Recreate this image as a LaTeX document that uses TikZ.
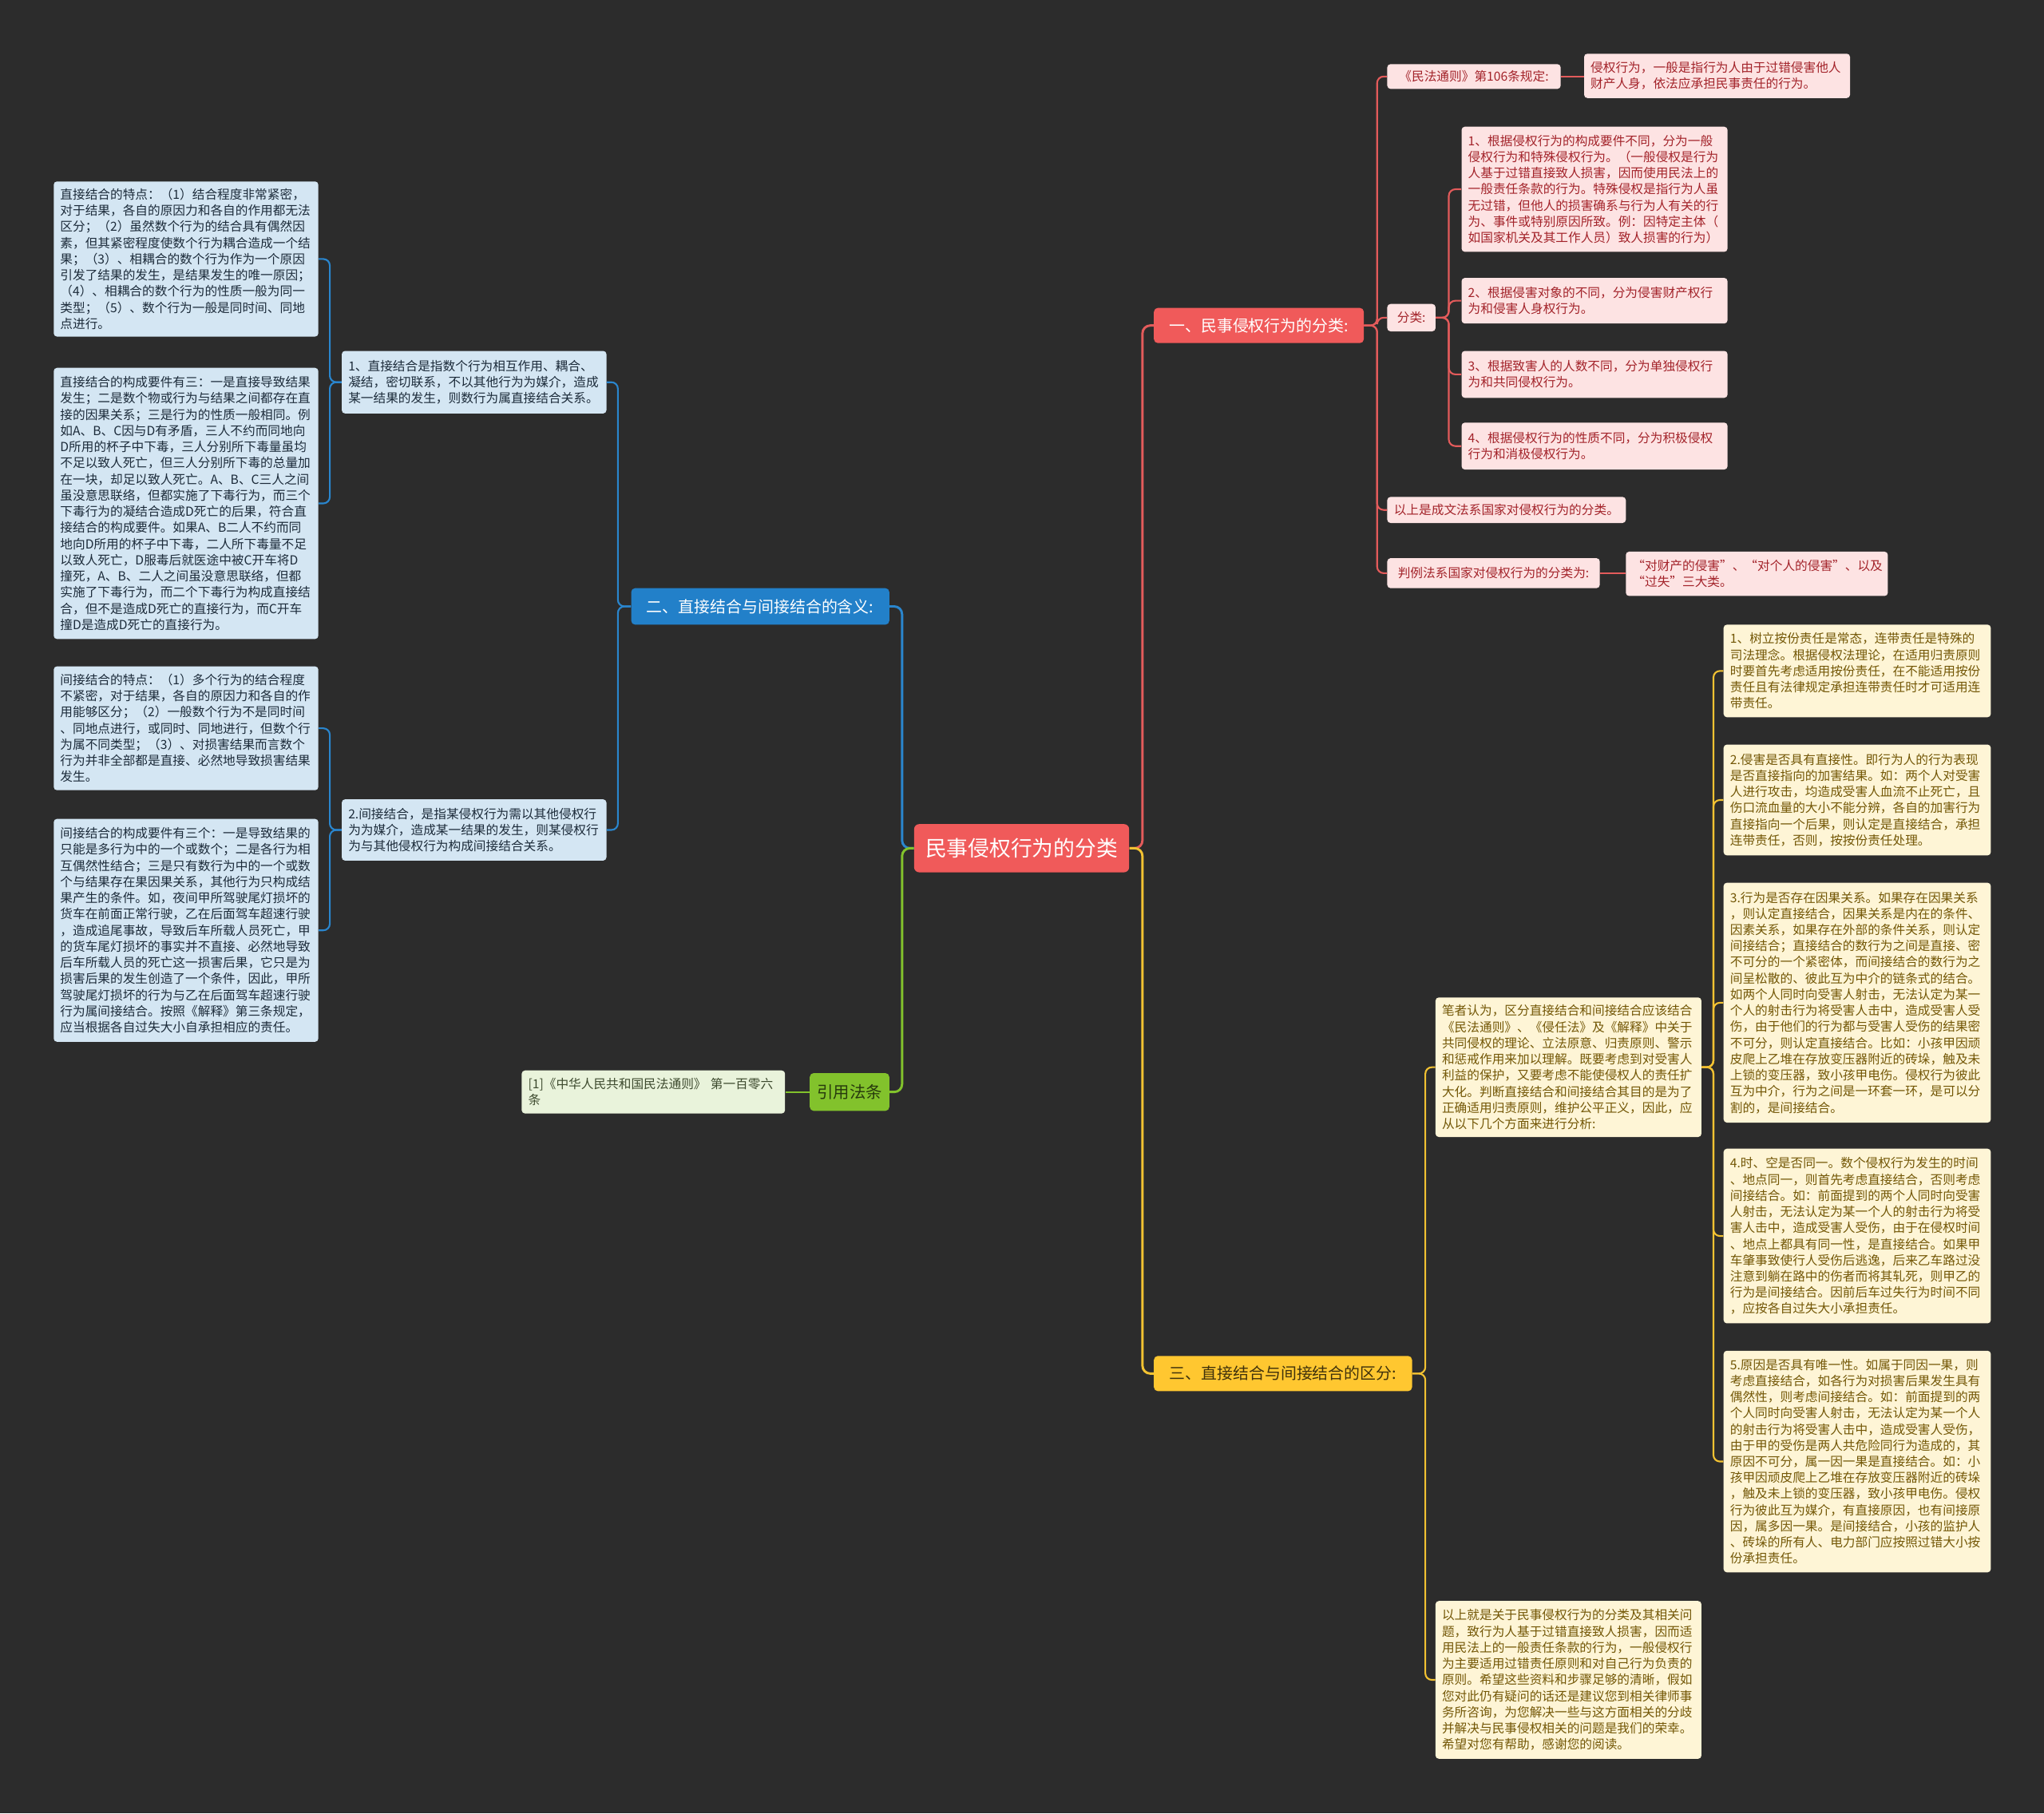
\documentclass[tikz,border=0pt]{standalone}
\usepackage{fontspec}
\newfontfamily\cjk{Noto Sans CJK SC}
\definecolor{bg}{HTML}{2C2C2C}
\definecolor{redmain}{HTML}{F05A5A}
\definecolor{redline}{HTML}{E35B5B}
\definecolor{pinkfill}{HTML}{FDE3E3}
\definecolor{pinktext}{HTML}{A3232A}
\definecolor{bluemain}{HTML}{2280C9}
\definecolor{blueline}{HTML}{2A86CE}
\definecolor{bluefill}{HTML}{D4E6F3}
\definecolor{bluetext}{HTML}{1C2B3A}
\definecolor{yelmain}{HTML}{FFC730}
\definecolor{yelline}{HTML}{F2C232}
\definecolor{yelfill}{HTML}{FEF5D6}
\definecolor{yeltext}{HTML}{735706}
\definecolor{grnmain}{HTML}{82C22C}
\definecolor{grnline}{HTML}{82C22C}
\definecolor{grnfill}{HTML}{E9F3DB}
\definecolor{grntext}{HTML}{3D4A2E}
\tikzset{
  nd/.style={anchor=north west, rounded corners=2.5pt, inner xsep=5pt, inner ysep=0pt,
    align=left, font=\cjk\fontsize{9.6}{12.4}\selectfont},
  sl/.style={anchor=north west, rounded corners=2.5pt, inner sep=0pt,
    align=center, font=\cjk\fontsize{9.6}{12.4}\selectfont},
  pinkbox/.style={fill=pinkfill, text=pinktext},
  bluebox/.style={fill=bluefill, text=bluetext},
  yelbox/.style={fill=yelfill, text=yeltext},
  grnbox/.style={fill=grnfill, text=grntext},
  br/.style={anchor=north west, rounded corners=3pt, inner sep=0pt, align=center,
    font=\cjk\fontsize{12.2}{14}\selectfont},
  conn/.style={line width=1.3pt, rounded corners=5pt},
  mainconn/.style={line width=1.8pt, rounded corners=6pt},
}
\begin{document}
\begin{tikzpicture}[x=1pt,y=-1pt]
\fill[bg] (0,0) rectangle (1568,1391);
\useasboundingbox (0,0) rectangle (1568,1391);

% central and branches
\node[br, fill=redmain, text=white, minimum width=165pt, minimum height=37pt,
  rounded corners=4pt, font=\cjk\fontsize{16.4}{18}\selectfont] (center) at (701,632) {民事侵权行为的分类};
\node[br, fill=redmain, text=white, minimum width=161pt, minimum height=27pt] (b1) at (885,236) {一、民事侵权行为的分类:};
\node[br, fill=bluemain, text=white, minimum width=198pt, minimum height=28pt] (b2) at (484,451) {二、直接结合与间接结合的含义:};
\node[br, fill=yelmain, text=black!75!yelmain, minimum width=198pt, minimum height=27pt] (b3) at (885,1040) {三、直接结合与间接结合的区分:};
\node[br, fill=grnmain, text=black!70!grnmain, minimum width=61pt, minimum height=29pt, font=\cjk\fontsize{12.5}{14}\selectfont] (b4) at (621,823) {引用法条};

% red branch
\node[sl, pinkbox, minimum width=133pt, minimum height=19pt] (plaw) at (1064,49) {《民法通则》第106条规定:};
\node[nd, pinkbox, text width=194pt, minimum height=34pt] (plawc) at (1215,41) {侵权行为，一般是指行为人由于过错侵害他人\\财产人身，依法应承担民事责任的行为。};
\node[sl, pinkbox, minimum width=37pt, minimum height=21pt] (pcls) at (1064,233) {分类:};
\node[nd, pinkbox, text width=194pt, minimum height=96pt] (p1) at (1121,97) {1、根据侵权行为的构成要件不同，分为一般\\侵权行为和特殊侵权行为。（一般侵权是行为\\人基于过错直接致人损害，因而使用民法上的\\一般责任条款的行为。特殊侵权是指行为人虽\\无过错，但他人的损害确系与行为人有关的行\\为、事件或特别原因所致。例：因特定主体（\\如国家机关及其工作人员）致人损害的行为）};
\node[nd, pinkbox, text width=194pt, minimum height=35pt] (p2) at (1121,213) {2、根据侵害对象的不同，分为侵害财产权行\\为和侵害人身权行为。};
\node[nd, pinkbox, text width=194pt, minimum height=36pt] (p3) at (1121,269) {3、根据致害人的人数不同，分为单独侵权行\\为和共同侵权行为。};
\node[nd, pinkbox, text width=194pt, minimum height=36pt] (p4) at (1121,324) {4、根据侵权行为的性质不同，分为积极侵权\\行为和消极侵权行为。};
\node[sl, pinkbox, minimum width=183pt, minimum height=20pt] (pabove) at (1064,381) {以上是成文法系国家对侵权行为的分类。};
\node[sl, pinkbox, minimum width=163pt, minimum height=23pt] (pcase) at (1064,428) {判例法系国家对侵权行为的分类为:};
\node[nd, pinkbox, text width=191pt, minimum height=34pt] (pcasec) at (1247,423) {“对财产的侵害”、“对个人的侵害”、以及\\“过失”三大类。};

% blue branch
\node[nd, bluebox, text width=193pt, minimum height=48pt] (bl1) at (262,269) {1、直接结合是指数个行为相互作用、耦合、\\凝结，密切联系，不以其他行为为媒介，造成\\某一结果的发生，则数行为属直接结合关系。};
\node[nd, bluebox, text width=193pt, minimum height=47pt] (bl2) at (262,613) {2.间接结合，是指某侵权行为需以其他侵权行\\为为媒介，造成某一结果的发生，则某侵权行\\为与其他侵权行为构成间接结合关系。};
\node[nd, bluebox, text width=193pt, minimum height=119pt] (n1) at (41,139) {直接结合的特点：（1）结合程度非常紧密，\\对于结果，各自的原因力和各自的作用都无法\\区分；（2）虽然数个行为的结合具有偶然因\\素，但其紧密程度使数个行为耦合造成一个结\\果；（3）、相耦合的数个行为作为一个原因\\引发了结果的发生，是结果发生的唯一原因；\\（4）、相耦合的数个行为的性质一般为同一\\类型；（5）、数个行为一般是同时间、同地\\点进行。};
\node[nd, bluebox, text width=193pt, minimum height=208pt] (n2) at (41,282) {直接结合的构成要件有三：一是直接导致结果\\发生；二是数个物或行为与结果之间都存在直\\接的因果关系；三是行为的性质一般相同。例\\如A、B、C因与D有矛盾，三人不约而同地向\\D所用的杯子中下毒，三人分别所下毒量虽均\\不足以致人死亡，但三人分别所下毒的总量加\\在一块，却足以致人死亡。A、B、C三人之间\\虽没意思联络，但都实施了下毒行为，而三个\\下毒行为的凝结合造成D死亡的后果，符合直\\接结合的构成要件。如果A、B二人不约而同\\地向D所用的杯子中下毒，二人所下毒量不足\\以致人死亡，D服毒后就医途中被C开车将D\\撞死，A、B、二人之间虽没意思联络，但都\\实施了下毒行为，而二个下毒行为构成直接结\\合，但不是造成D死亡的直接行为，而C开车\\撞D是造成D死亡的直接行为。};
\node[nd, bluebox, text width=193pt, minimum height=95pt] (n3) at (41,511) {间接结合的特点：（1）多个行为的结合程度\\不紧密，对于结果，各自的原因力和各自的作\\用能够区分；（2）一般数个行为不是同时间\\、同地点进行，或同时、同地进行，但数个行\\为属不同类型；（3）、对损害结果而言数个\\行为并非全部都是直接、必然地导致损害结果\\发生。};
\node[nd, bluebox, text width=193pt, minimum height=171pt] (n4) at (41,628) {间接结合的构成要件有三个：一是导致结果的\\只能是多行为中的一个或数个；二是各行为相\\互偶然性结合；三是只有数行为中的一个或数\\个与结果存在果因果关系，其他行为只构成结\\果产生的条件。如，夜间甲所驾驶尾灯损坏的\\货车在前面正常行驶，乙在后面驾车超速行驶\\，造成追尾事故，导致后车所载人员死亡，甲\\的货车尾灯损坏的事实并不直接、必然地导致\\后车所载人员的死亡这一损害后果，它只是为\\损害后果的发生创造了一个条件，因此，甲所\\驾驶尾灯损坏的行为与乙在后面驾车超速行驶\\行为属间接结合。按照《解释》第三条规定，\\应当根据各自过失大小自承担相应的责任。};

% green branch
\node[nd, grnbox, text width=192pt, minimum height=33pt] (cite) at (400,821) {[1]《中华人民共和国民法通则》~第一百零六\\条};

% yellow branch
\node[nd, yelbox, text width=194pt, minimum height=107pt] (y0) at (1101,765) {笔者认为，区分直接结合和间接结合应该结合\\《民法通则》、《侵任法》及《解释》中关于\\共同侵权的理论、立法原意、归责原则、警示\\和惩戒作用来加以理解。既要考虑到对受害人\\利益的保护，又要考虑不能使侵权人的责任扩\\大化。判断直接结合和间接结合其目的是为了\\正确适用归责原则，维护公平正义，因此，应\\从以下几个方面来进行分析:};
\node[nd, yelbox, text width=194pt, minimum height=121pt] (yb) at (1101,1228) {以上就是关于民事侵权行为的分类及其相关问\\题，致行为人基于过错直接致人损害，因而适\\用民法上的一般责任条款的行为，一般侵权行\\为主要适用过错责任原则和对自己行为负责的\\原则。希望这些资料和步骤足够的清晰，假如\\您对此仍有疑问的话还是建议您到相关律师事\\务所咨询，为您解决一些与这方面相关的分歧\\并解决与民事侵权相关的问题是我们的荣幸。\\希望对您有帮助，感谢您的阅读。};
\node[nd, yelbox, text width=195pt, minimum height=71pt] (ya) at (1322,479) {1、树立按份责任是常态，连带责任是特殊的\\司法理念。根据侵权法理论，在适用归责原则\\时要首先考虑适用按份责任，在不能适用按份\\责任且有法律规定承担连带责任时才可适用连\\带责任。};
\node[nd, yelbox, text width=195pt, minimum height=85pt] (yc) at (1322,571) {2.侵害是否具有直接性。即行为人的行为表现\\是否直接指向的加害结果。如：两个人对受害\\人进行攻击，均造成受害人血流不止死亡，且\\伤口流血量的大小不能分辨，各自的加害行为\\直接指向一个后果，则认定是直接结合，承担\\连带责任，否则，按按份责任处理。};
\node[nd, yelbox, text width=195pt, minimum height=184pt] (yd) at (1322,677) {3.行为是否存在因果关系。如果存在因果关系\\，则认定直接结合，因果关系是内在的条件、\\因素关系，如果存在外部的条件关系，则认定\\间接结合；直接结合的数行为之间是直接、密\\不可分的一个紧密体，而间接结合的数行为之\\间呈松散的、彼此互为中介的链条式的结合。\\如两个人同时向受害人射击，无法认定为某一\\个人的射击行为将受害人击中，造成受害人受\\伤，由于他们的行为都与受害人受伤的结果密\\不可分，则认定直接结合。比如：小孩甲因顽\\皮爬上乙堆在存放变压器附近的砖垛，触及未\\上锁的变压器，致小孩甲电伤。侵权行为彼此\\互为中介，行为之间是一环套一环，是可以分\\割的，是间接结合。};
\node[nd, yelbox, text width=195pt, minimum height=134pt] (ye) at (1322,881) {4.时、空是否同一。数个侵权行为发生的时间\\、地点同一，则首先考虑直接结合，否则考虑\\间接结合。如：前面提到的两个人同时向受害\\人射击，无法认定为某一个人的射击行为将受\\害人击中，造成受害人受伤，由于在侵权时间\\、地点上都具有同一性，是直接结合。如果甲\\车肇事致使行人受伤后逃逸，后来乙车路过没\\注意到躺在路中的伤者而将其轧死，则甲乙的\\行为是间接结合。因前后车过失行为时间不同\\，应按各自过失大小承担责任。};
\node[nd, yelbox, text width=195pt, minimum height=170pt] (yf) at (1322,1036) {5.原因是否具有唯一性。如属于同因一果，则\\考虑直接结合，如各行为对损害后果发生具有\\偶然性，则考虑间接结合。如：前面提到的两\\个人同时向受害人射击，无法认定为某一个人\\的射击行为将受害人击中，造成受害人受伤，\\由于甲的受伤是两人共危险同行为造成的，其\\原因不可分，属一因一果是直接结合。如：小\\孩甲因顽皮爬上乙堆在存放变压器附近的砖垛\\，触及未上锁的变压器，致小孩甲电伤。侵权\\行为彼此互为媒介，有直接原因，也有间接原\\因，属多因一果。是间接结合，小孩的监护人\\、砖垛的所有人、电力部门应按照过错大小按\\份承担责任。};

% connectors: main
\draw[mainconn, blueline] (center.west) -- ++(-9,0) |- (b2.east);
\draw[mainconn, grnline] (center.west) -- ++(-9,0) |- (b4.east);
\draw[mainconn, redline] (center.east) -- ++(10,0) |- (b1.west);
\draw[mainconn, yelline] (center.east) -- ++(10,0) |- (b3.west);

% red
\foreach \t in {plaw,pcls,pabove,pcase}
  \draw[conn, redline] (b1.east) -- ++(10,0) |- (\t.west);
\draw[conn, redline] (plaw.east) -- (plaw.east -| plawc.west);
\draw[conn, redline] (pcase.east) -- (pcase.east -| pcasec.west);
\foreach \t in {p1,p2,p3,p4}
  \draw[conn, redline] (pcls.east) -- ++(10,0) |- (\t.west);

% blue
\foreach \t in {bl1,bl2}
  \draw[conn, blueline] (b2.west) -- ++(-10,0) |- (\t.east);
\foreach \t in {n1,n2}
  \draw[conn, blueline] (bl1.west) -- ++(-9,0) |- (\t.east);
\foreach \t in {n3,n4}
  \draw[conn, blueline] (bl2.west) -- ++(-9,0) |- (\t.east);

% green
\draw[conn, grnline] (b4.west) -- (cite.east);

% yellow
\foreach \t in {y0,yb}
  \draw[conn, yelline] (b3.east) -- ++(10,0) |- (\t.west);
\foreach \t in {ya,yc,yd,ye,yf}
  \draw[conn, yelline] (y0.east) -- ++(9,0) |- (\t.west);
\end{tikzpicture}
\end{document}
